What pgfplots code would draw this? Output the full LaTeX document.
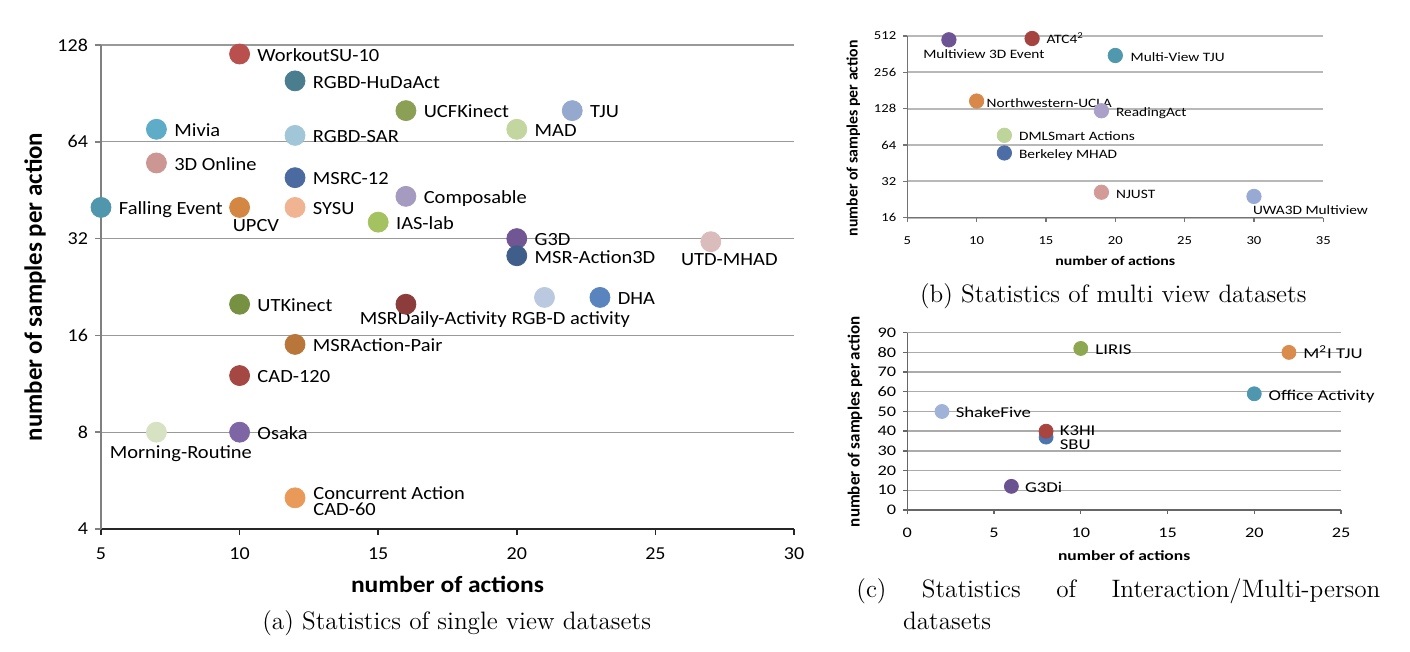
\documentclass[border=0pt]{standalone}
\usepackage{pgfplots}
\pgfplotsset{compat=1.18}
\usepackage{fontspec}
\newfontfamily\calA[FakeStretch=1.1]{Carlito}
\newfontfamily\calB[FakeStretch=1.2]{Carlito}
\newfontfamily\calC[FakeStretch=1.25]{Carlito}
\newfontfamily\calN{Carlito}
\newcommand{\fs}[1]{\fontsize{#1}{#1}\selectfont}

% panel (a) colours
\definecolor{cWork}{HTML}{B9504D}
\definecolor{cHuDa}{HTML}{4A7E8E}
\definecolor{cUCF}{HTML}{8BA054}
\definecolor{cTJU}{HTML}{95A8CE}
\definecolor{cMAD}{HTML}{C3D6A0}
\definecolor{cMivia}{HTML}{5EACC8}
\definecolor{cSAR}{HTML}{A0C6D8}
\definecolor{cOnline}{HTML}{CC9692}
\definecolor{cMSRC}{HTML}{4B6AA0}
\definecolor{cComp}{HTML}{A59BC0}
\definecolor{cFall}{HTML}{5096AC}
\definecolor{cUPCV}{HTML}{D38743}
\definecolor{cSYSU}{HTML}{F0B492}
\definecolor{cIAS}{HTML}{A4C260}
\definecolor{cGThreeD}{HTML}{705692}
\definecolor{cMSRA}{HTML}{3F5E8A}
\definecolor{cUTD}{HTML}{DBBCBC}
\definecolor{cUTK}{HTML}{769142}
\definecolor{cDaily}{HTML}{8C3C3A}
\definecolor{cRGBD}{HTML}{BBC9E0}
\definecolor{cDHA}{HTML}{5A84BE}
\definecolor{cPair}{HTML}{B8763A}
\definecolor{cCAD}{HTML}{A54742}
\definecolor{cMorn}{HTML}{D6E2C2}
\definecolor{cOsaka}{HTML}{7E66A4}
\definecolor{cConc}{HTML}{EA9A58}
% panel (b) colours
\definecolor{bMTD}{HTML}{6D5494}
\definecolor{bATC}{HTML}{A4433F}
\definecolor{bMVT}{HTML}{4F98AE}
\definecolor{bNUC}{HTML}{D8894A}
\definecolor{bRA}{HTML}{ABA0C8}
\definecolor{bDML}{HTML}{BDD49B}
\definecolor{bBMH}{HTML}{4C6DA5}
\definecolor{bNJU}{HTML}{D29B98}
\definecolor{bUWA}{HTML}{98AAD3}
% panel (c) colours
\definecolor{dLIR}{HTML}{8EA852}
\definecolor{dMTJ}{HTML}{D98C4C}
\definecolor{dOff}{HTML}{4F97AE}
\definecolor{dSha}{HTML}{A0B2D8}
\definecolor{dKHI}{HTML}{A8453F}
\definecolor{dSBU}{HTML}{4B74B0}
\definecolor{dGDi}{HTML}{6B5291}

% #1 colour, #2 x, #3 y, #4 label, #5 anchor, #6 dx (px), #7 dy (px, downwards)
\newcommand{\dpt}[7]{%
  \addplot[forget plot, only marks, mark=*, dot, color=#1, mark options={fill=#1, draw=none}] coordinates {(#2,#3)};
  \node[lbl, anchor=#5, xshift={(#6)*0.5pt}, yshift={(#7)*(-0.5pt)}] at (axis cs:#2,#3) {#4};
}

\pgfplotsset{excel/.style={
  scale only axis, clip=false, anchor=south west,
  axis x line=bottom, axis y line=left, axis line style={-},
  tick align=outside, ymajorgrids,
  /pgf/number format/assume math mode=true,
}}

\begin{document}
\begin{tikzpicture}
\path[use as bounding box] (0pt,0pt) rectangle (705pt,326pt);

% ---------------- panel (a)
\tikzset{dot/.style={mark size=5pt}, lbl/.style={font=\calA\fs{9.3}, inner sep=0pt}}
\begin{axis}[excel, at={(50.5pt,61.5pt)}, width=346.5pt, height=242pt,
  xmin=5, xmax=30, ymin=4, ymax=128, ymode=log, log basis y=2,
  xtick={5,10,15,20,25,30},
  ytick={4,8,16,32,64,128}, yticklabels={4,8,16,32,64,128},
  major tick length=3pt,
  x axis line style={black!85, line width=0.8pt},
  y axis line style={black!50, line width=0.8pt},
  xtick style={black!85, line width=0.8pt},
  ytick style={black!50, line width=0.8pt},
  grid style={black!40, line width=0.6pt},
  tick label style={font=\calA\fs{9.1}},
  xticklabel style={yshift=-3pt},
  xlabel={number of actions}, ylabel={number of samples per action},
  xlabel style={font=\calA\bfseries\fs{11.6}, at={(axis description cs:0.5,-0.1136)}, anchor=center},
  ylabel style={font=\calN\bfseries\fs{12.45}, at={(axis description cs:-0.0952,0.5)}, anchor=center},
]
\dpt{cWork}{10}{120}{WorkoutSU-10}{base west}{17.5}{7.3}
\dpt{cHuDa}{12}{99}{RGBD-HuDaAct}{base west}{17.5}{7.3}
\dpt{cUCF}{16}{80}{UCFKinect}{base west}{17.5}{7.3}
\dpt{cTJU}{22}{80}{TJU}{base west}{17.5}{7.3}
\dpt{cMAD}{20}{70}{MAD}{base west}{17.5}{7.3}
\dpt{cMivia}{7}{70}{Mivia}{base west}{17.5}{7.3}
\dpt{cSAR}{12}{67}{RGBD-SAR}{base west}{17.5}{7.3}
\dpt{cOnline}{7}{55}{3D Online}{base west}{17.5}{7.3}
\dpt{cMSRC}{12}{49.5}{MSRC-12}{base west}{17.5}{7.3}
\dpt{cComp}{16}{43.3}{Composable}{base west}{17.5}{7.3}
\dpt{cFall}{5}{40}{Falling Event}{base west}{17.5}{7.3}
\dpt{cUPCV}{10}{40}{UPCV}{base}{16.3}{24.3}
\dpt{cSYSU}{12}{40}{SYSU}{base west}{17.5}{7.3}
\dpt{cIAS}{15}{36}{IAS-lab}{base west}{17.5}{7.3}
\dpt{cGThreeD}{20}{32}{G3D}{base west}{17.5}{7.3}
\dpt{cMSRA}{20}{28.3}{MSR-Action3D}{base west}{17.5}{7.3}
\dpt{cUTD}{27}{31.3}{UTD-MHAD}{base}{18.5}{24}
\dpt{cUTK}{10}{20}{UTKinect}{base west}{17.5}{7.3}
\dpt{cDaily}{16}{20}{MSRDaily-Activity}{base}{27.3}{20.3}
\dpt{cRGBD}{21}{21}{RGB-D activity}{base}{26.3}{27}
\dpt{cDHA}{23}{21}{DHA}{base west}{17.5}{7.3}
\dpt{cPair}{12}{15}{MSRAction-Pair}{base west}{17.5}{7.3}
\dpt{cCAD}{10}{12}{CAD-120}{base west}{17.5}{7.3}
\dpt{cMorn}{7}{8}{Morning-Routine}{base}{24.4}{26.3}
\dpt{cOsaka}{10}{8}{Osaka}{base west}{17.5}{7.3}
\dpt{cConc}{12}{5}{Concurrent Action}{base west}{18}{1.6}
\node[lbl, anchor=base west, xshift=9pt, yshift=-8.65pt] at (axis cs:12,5) {CAD-60};
\end{axis}

% ---------------- panel (b)
\tikzset{dot/.style={mark size=3.6pt}, lbl/.style={font=\calB\fs{6.4}, inner sep=0pt}}
\begin{axis}[excel, at={(453.65pt,217.15pt)}, width=208pt, height=90.85pt,
  xmin=5, xmax=35, ymin=16, ymax=512, ymode=log, log basis y=2,
  xtick={5,10,15,20,25,30,35},
  ytick={16,32,64,128,256,512}, yticklabels={16,32,64,128,256,512},
  major tick length=2pt,
  axis line style={black!55, line width=0.7pt},
  tick style={black!55, line width=0.7pt},
  grid style={black!28, line width=0.9pt},
  tick label style={font=\calB\fs{6.1}},
  xticklabel style={yshift=-4pt},
  xlabel={number of actions}, ylabel={number of samples per action},
  xlabel style={font=\calB\bfseries\fs{6.6}, at={(axis description cs:0.5,-0.2367)}, anchor=center},
  ylabel style={font=\calN\bfseries\fs{7.9}, at={(axis description cs:-0.1298,0.437)}, anchor=center},
]
\dpt{bMTD}{8}{476}{Multiview 3D Event}{base}{35}{19}
\dpt{bATC}{14}{488}{ATC4\textsuperscript{2}}{base west}{14}{5.3}
\dpt{bMVT}{20}{353}{Multi-View TJU}{base west}{15}{5.6}
\dpt{bNUC}{10}{148}{Northwestern-UCLA}{base west}{9.7}{6}
\dpt{bRA}{19}{123}{ReadingAct}{base west}{14.3}{5.7}
\dpt{bDML}{12}{77}{DMLSmart Actions}{base west}{14.3}{5}
\dpt{bBMH}{12}{55}{Berkeley MHAD}{base west}{14.3}{5.7}
\dpt{bNJU}{19}{26}{NJUST}{base west}{14.3}{6}
\dpt{bUWA}{30}{24}{UWA3D Multiview}{base}{56.5}{18.3}
\end{axis}

% ---------------- panel (c)
\tikzset{dot/.style={mark size=3.5pt}, lbl/.style={font=\calC\fs{7.5}, inner sep=0pt}}
\begin{axis}[excel, at={(453.65pt,71pt)}, width=216.85pt, height=88.65pt,
  xmin=0, xmax=25, ymin=0, ymax=90,
  xtick={0,5,10,15,20,25}, ytick={0,10,20,30,40,50,60,70,80,90},
  major tick length=2pt,
  axis line style={black!60, line width=0.7pt},
  tick style={black!60, line width=0.7pt},
  grid style={black!33, line width=0.7pt},
  tick label style={font=\calC\fs{7.3}},
  xticklabel style={yshift=-3.5pt},
  xlabel={number of actions}, ylabel={number of samples per action},
  xlabel style={font=\calC\bfseries\fs{7}, at={(axis description cs:0.5,-0.2594)}, anchor=center},
  ylabel style={font=\calN\bfseries\fs{8.5}, at={(axis description cs:-0.1206,0.498)}, anchor=center},
]
\dpt{dLIR}{10}{82}{LIRIS}{base west}{14.3}{6.3}
\dpt{dMTJ}{22}{80}{M\textsuperscript{2}I TJU}{base west}{14}{6.6}
\dpt{dOff}{20}{59}{Office Activity}{base west}{14}{6.7}
\dpt{dSha}{2}{50}{ShakeFive}{base west}{13.4}{6.3}
\dpt{dSBU}{8}{37}{SBU}{base west}{13.3}{12.6}
\dpt{dKHI}{8}{40}{K3HI}{base west}{13.3}{4.3}
\dpt{dGDi}{6}{12}{G3Di}{base west}{13.3}{6.3}
\end{axis}

% ---------------- captions
\node[anchor=base, font=\fs{12.6}] at (228.35pt,11pt) {(a) Statistics of single view datasets};
\node[anchor=base, font=\fs{12.6}] at (556.65pt,174.75pt) {(b) Statistics of multi view datasets};
\node[anchor=base west, inner sep=0pt, font=\fs{12.6}] at (428pt,27.35pt)
  {\makebox[262pt][l]{(c)\hfill Statistics\hfill of\hfill Interaction/Multi-person}};
\node[anchor=base west, inner sep=0pt, font=\fs{12.6}] at (451.35pt,11pt) {datasets};
\end{tikzpicture}
\end{document}
